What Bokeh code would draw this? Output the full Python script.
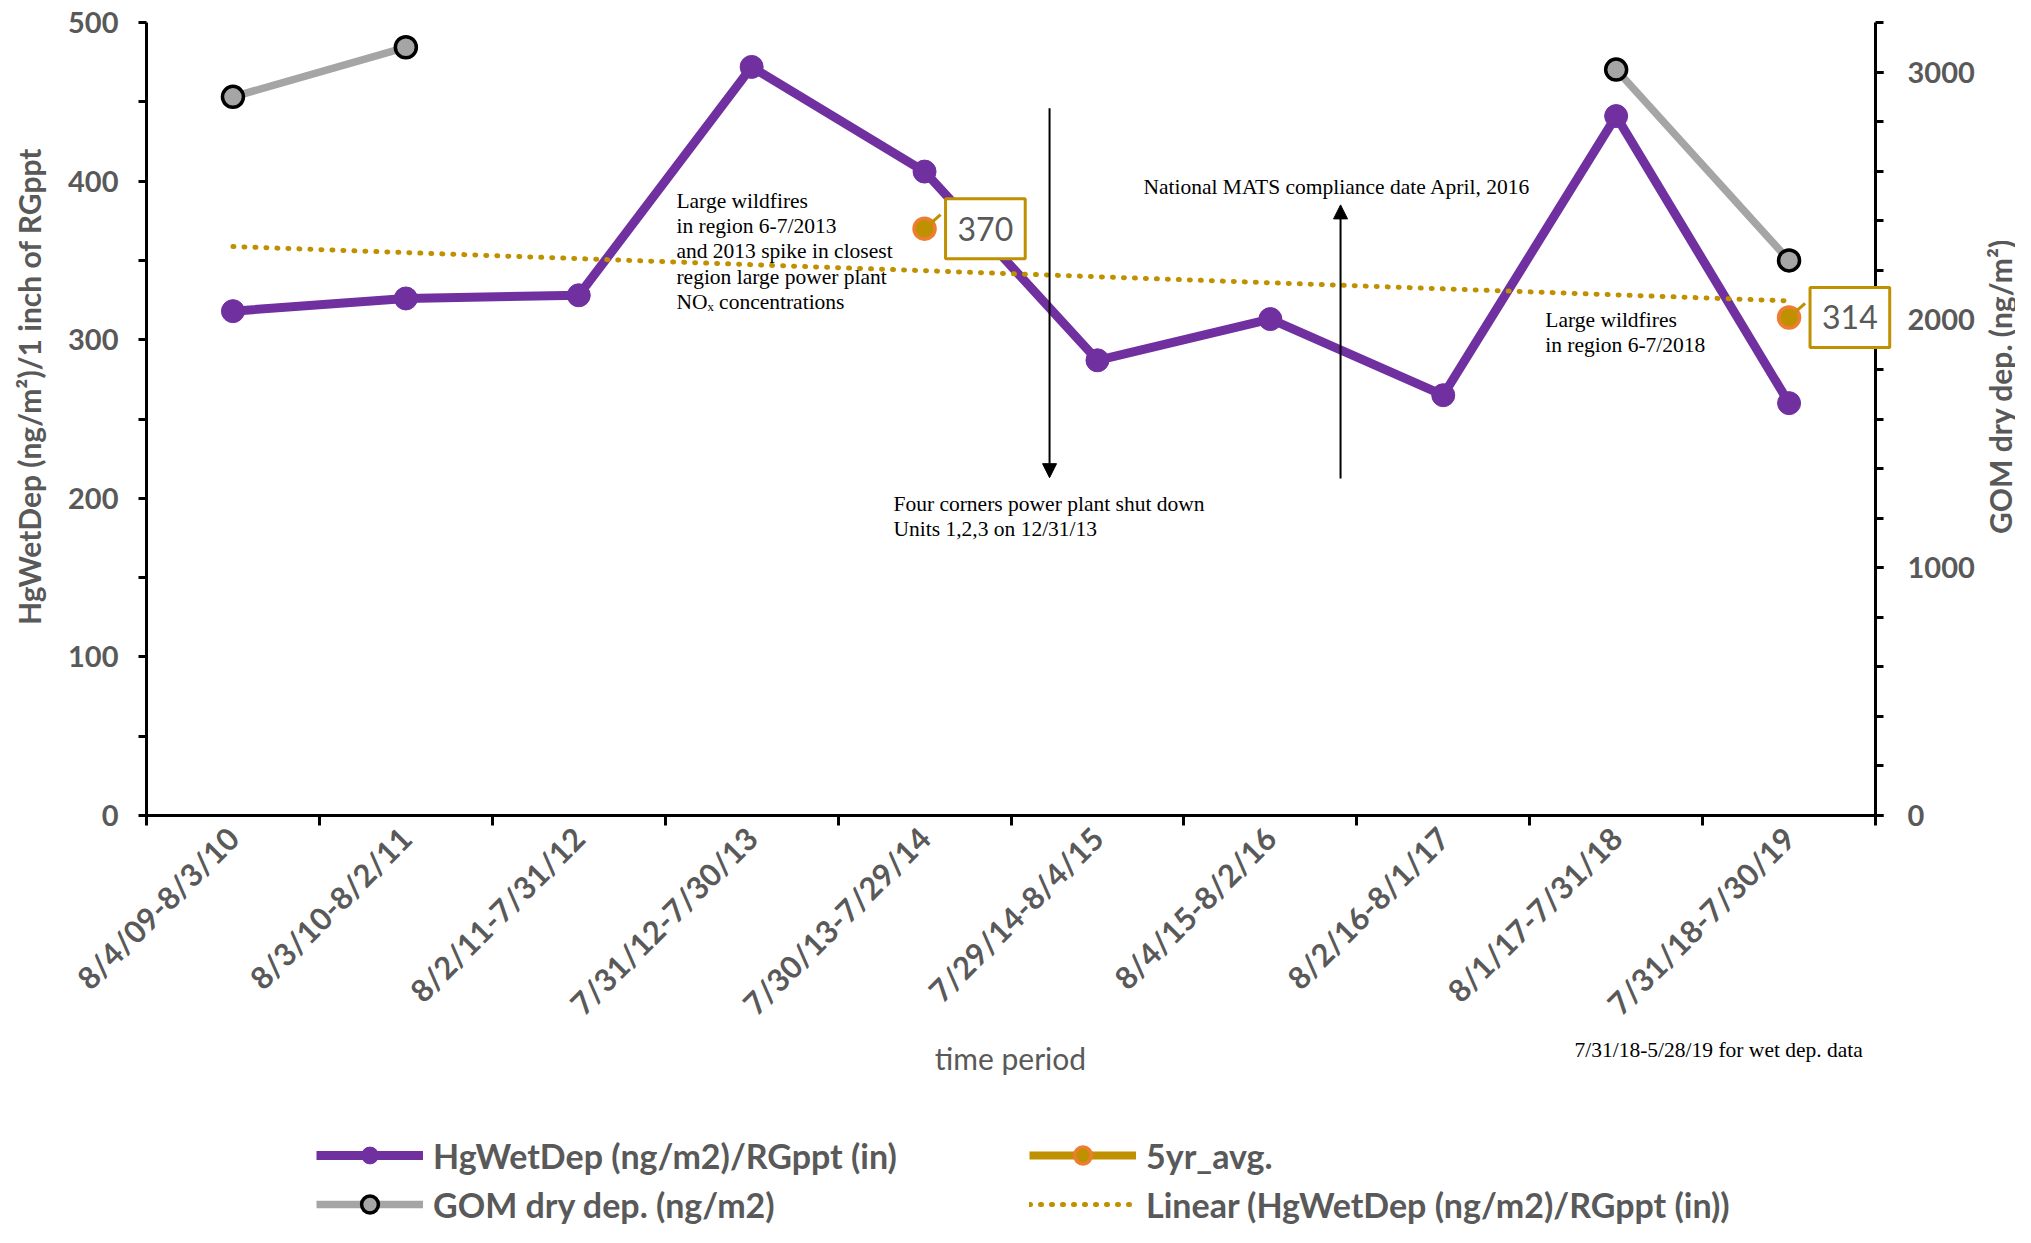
import numpy as np
from math import pi
from bokeh.plotting import figure
from bokeh.models import (Range1d, LinearAxis, FixedTicker, Label, Legend, LegendItem,
                          Arrow, NormalHead, ColumnDataSource)
from bokeh.embed import file_html
from bokeh.resources import INLINE

nan = float("nan")

# ---------------- data ----------------
categories = ["8/4/09-8/3/10", "8/3/10-8/2/11", "8/2/11-7/31/12", "7/31/12-7/30/13",
              "7/30/13-7/29/14", "7/29/14-8/4/15", "8/4/15-8/2/16", "8/2/16-8/1/17",
              "8/1/17-7/31/18", "7/31/18-7/30/19"]
hg_wet_dep = [318, 326, 328, 472, 406, 287, 313, 265, 441, 260]
gom_dry_dep = [2900, 3100, nan, nan, nan, nan, nan, nan, 3010, 2240]
five_yr_avg = [nan, nan, nan, nan, 370, nan, nan, nan, nan, 314]
left_ticks = [0, 100, 200, 300, 400, 500]
right_ticks = [0, 1000, 2000, 3000]
left_max = 500
right_max = 3200

series_names = ["HgWetDep (ng/m2)/RGppt (in)", "GOM dry dep. (ng/m2)", "5yr_avg.",
                "Linear (HgWetDep (ng/m2)/RGppt (in))"]
left_title = "HgWetDep (ng/m\u00b2)/1 inch of RGppt"
right_title = "GOM dry dep. (ng/m\u00b2)"
x_title = "time period"

# annotations: (x in category units, y in left-axis units, text)
notes = [
    (3.565, 395.0, "Large wildfires\nin region 6-7/2013\nand 2013 spike in closest\nregion large power plant\nNO\u2093 concentrations"),
    (6.266, 404.0, "National MATS compliance date April, 2016"),
    (4.820, 204.0, "Four corners power plant shut down\nUnits 1,2,3 on 12/31/13"),
    (8.590, 320.0, "Large wildfires\nin region 6-7/2018"),
    (8.759, -140.0, "7/31/18-5/28/19 for wet dep. data"),
]
arrows = [  # x, y_start, y_end
    (5.723, 446.0, 213.0),
    (7.406, 212.5, 385.0),
]

# ---------------- layout / styles ----------------
W, H = 2015, 1227
AX_L, AX_R, AX_T, AX_B = 146, 1875, 22, 815   # pixel position of the plot box

PURPLE = "#7030A0"
GRAY = "#A5A5A5"
GOLD = "#BF9000"
ORANGE = "#ED7D31"
TXT = "#595959"
SANS = "Lato"
SERIF = "Liberation Serif"

n = len(categories)
x = np.arange(1, n + 1)
hg = np.array(hg_wet_dep, dtype=float)
coef = np.polyfit(x, hg, 1)
trend = np.polyval(coef, x)

src = ColumnDataSource(dict(x=x, hg=hg, gom=np.array(gom_dry_dep, dtype=float),
                            avg=np.array(five_yr_avg, dtype=float), trend=trend))

# ranges extended so that the frame covers the whole canvas
xs = (AX_R - AX_L) / n
x0, x1 = 0.5 - AX_L / xs, n + 0.5 + (W - AX_R) / xs
ly = (AX_B - AX_T) / left_max
ry = (AX_B - AX_T) / right_max

p = figure(width=W, height=H, output_backend="svg", toolbar_location=None,
           x_range=Range1d(x0, x1),
           y_range=Range1d(-(H - AX_B) / ly, left_max + AX_T / ly),
           min_border=0)
p.extra_y_ranges = {"gom": Range1d(-(H - AX_B) / ry, right_max + AX_T / ry)}
p.xgrid.visible = False
p.ygrid.visible = False
p.outline_line_color = None
p.background_fill_color = "white"
p.border_fill_color = "white"

# bottom axis
xa = p.xaxis[0]
xa.fixed_location = 0
xa.bounds = (0.5, n + 0.5)
xa.ticker = FixedTicker(ticks=[int(v) for v in x],
                        minor_ticks=[float(v) - 0.5 for v in x] + [n + 0.5])
xa.major_label_overrides = {int(v): c for v, c in zip(x, categories)}
xa.major_label_orientation = pi / 4
xa.major_tick_out = 0
xa.major_tick_in = 0
xa.minor_tick_out = 10
xa.minor_tick_in = 0
xa.minor_tick_line_width = 3
xa.minor_tick_line_color = "black"
xa.axis_line_width = 3
xa.axis_line_color = "black"
xa.major_label_standoff = 7
xa.major_label_text_font = SANS
xa.major_label_text_font_style = "bold"
xa.major_label_text_font_size = "31px"
xa.major_label_text_color = TXT


def style_y(ax, standoff):
    ax.major_tick_out = 8
    ax.major_tick_in = 0
    ax.minor_tick_out = 8
    ax.minor_tick_in = 0
    ax.major_tick_line_width = 3
    ax.minor_tick_line_width = 3
    ax.major_tick_line_color = "black"
    ax.minor_tick_line_color = "black"
    ax.axis_line_width = 3
    ax.axis_line_color = "black"
    ax.major_label_standoff = standoff
    ax.major_label_text_font = SANS
    ax.major_label_text_font_style = "bold"
    ax.major_label_text_font_size = "29px"
    ax.major_label_text_color = TXT


ya = p.yaxis[0]
ya.fixed_location = 0.5
ya.bounds = (0, left_max)
ya.ticker = FixedTicker(ticks=left_ticks, minor_ticks=[t + 50 for t in left_ticks[:-1]])
style_y(ya, 20)

ra = LinearAxis(y_range_name="gom", fixed_location=n + 0.5, bounds=(0, right_max),
                ticker=FixedTicker(ticks=right_ticks, minor_ticks=list(range(0, right_max + 1, 200))))
style_y(ra, 24)
p.add_layout(ra, "right")

# series
hg_line = p.line("x", "hg", source=src, line_color=PURPLE, line_width=9)
hg_pts = p.scatter("x", "hg", source=src, size=23, fill_color=PURPLE, line_color=PURPLE)
gom_line = p.line("x", "gom", source=src, y_range_name="gom", line_color=GRAY, line_width=7.5)
gom_pts = p.scatter("x", "gom", source=src, y_range_name="gom", size=21,
                    fill_color=GRAY, line_color="black", line_width=3.5)
avg_line = p.line("x", "avg", source=src, line_color=GOLD, line_width=8)
avg_pts = p.scatter("x", "avg", source=src, size=21, fill_color=GOLD,
                    line_color=ORANGE, line_width=3.5)
trend_line = p.line("x", "trend", source=src, line_color=GOLD, line_width=5,
                    line_dash="1 10", line_cap="round")

# data labels (with short leader lines) for the 5yr average
for xi, v in zip(x, five_yr_avg):
    if v == v:
        p.add_layout(Arrow(x_start=float(xi) + 7 / xs, y_start=v + 6 / ly,
                           x_end=float(xi) + 16 / xs, y_end=v + 14 / ly,
                           end=None, line_color=GOLD, line_width=3))
        p.add_layout(Label(x=float(xi), y=v, text=f"{v:.0f}", x_offset=21,
                           text_align="left", text_baseline="middle",
                           text_font=SANS, text_font_size="32px", text_color=TXT,
                           background_fill_color="white", border_line_color=GOLD,
                           border_line_width=3,
                           padding=dict(left=12, right=12, top=18, bottom=18)))

# annotations
for nx, ny, txt in notes:
    p.add_layout(Label(x=nx, y=ny, text=txt, text_align="left", text_baseline="top",
                       text_font=SERIF, text_font_size="21.5px", text_color="black",
                       text_line_height=1.05))
for ax_, y0, y1 in arrows:
    p.add_layout(Arrow(x_start=ax_, y_start=y0, x_end=ax_, y_end=y1, line_width=2,
                       line_color="black",
                       end=NormalHead(size=14, fill_color="black", line_color="black")))

# axis titles (screen units: x from left, y from bottom of the canvas)
title_y = H - 386
p.add_layout(Label(x=28, y=title_y, x_units="screen", y_units="screen", angle=pi / 2,
                   text=left_title, text_align="center", text_baseline="middle",
                   text_font=SANS, text_font_style="bold", text_font_size="30px",
                   text_color=TXT))
p.add_layout(Label(x=1999, y=title_y, x_units="screen", y_units="screen", angle=pi / 2,
                   text=right_title, text_align="center", text_baseline="middle",
                   text_font=SANS, text_font_style="bold", text_font_size="30px",
                   text_color=TXT))
p.add_layout(Label(x=1010, y=H - 1057, x_units="screen", y_units="screen",
                   text=x_title, text_align="center", text_baseline="middle",
                   text_font=SANS, text_font_size="30px", text_color=TXT))


# legends (two columns)
def make_legend(items, loc):
    lg = Legend(items=items, location=loc, orientation="vertical",
                glyph_width=107, glyph_height=42, label_height=38, label_standoff=10,
                spacing=7, padding=0, margin=0, border_line_color=None,
                background_fill_alpha=0, label_text_font=SANS,
                label_text_font_style="bold", label_text_font_size="34px",
                label_text_color=TXT)
    p.add_layout(lg, "center")


make_legend([LegendItem(label=series_names[0], renderers=[hg_line, hg_pts]),
             LegendItem(label=series_names[1], renderers=[gom_line, gom_pts])], (316, 2))
make_legend([LegendItem(label=series_names[2], renderers=[avg_line, avg_pts]),
             LegendItem(label=series_names[3], renderers=[trend_line])], (1029, 2))

open("out.html", "w").write(file_html(p, INLINE))
